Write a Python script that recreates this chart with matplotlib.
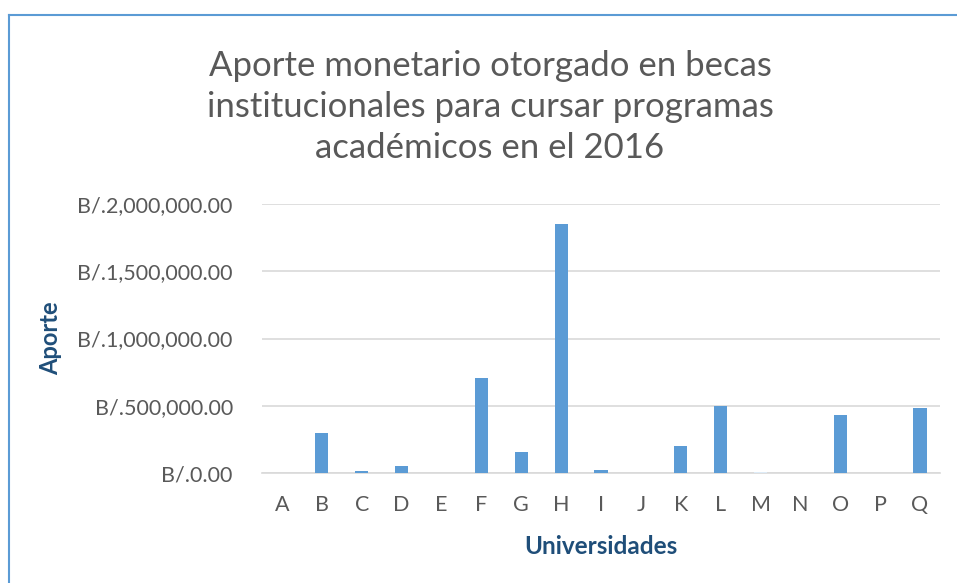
import matplotlib.pyplot as plt
from matplotlib.lines import Line2D
from matplotlib.ticker import FuncFormatter

universidades = ['A', 'B', 'C', 'D', 'E', 'F', 'G', 'H', 'I', 'J', 'K', 'L', 'M', 'N', 'O', 'P', 'Q']
aporte = [0, 300000, 12000, 50000, 0, 705000, 155000, 1850000, 20000, 0,
          200000, 498000, 5000, 0, 430000, 0, 483000]

plt.rcParams['font.family'] = ['Lato', 'DejaVu Sans']

fig = plt.figure(figsize=(9.57, 5.83), dpi=100)
W, H = 957, 583
ax = fig.add_axes([262 / W, 1 - 473 / H, (940 - 262) / W, (473 - 204) / H])

colors = ['#5B9BD5'] * len(aporte)
colors[12] = '#DDEBF7'  # M barely visible
ax.bar(range(len(universidades)), aporte, width=0.33, color=colors, zorder=3)

ax.set_xlim(-0.5, len(universidades) - 0.5)
ax.set_ylim(0, 2000000)
ax.set_yticks([0, 500000, 1000000, 1500000, 2000000])
ax.yaxis.set_major_formatter(FuncFormatter(lambda v, p: 'B/.{:,.2f}'.format(v)))
ax.set_xticks(range(len(universidades)))
ax.set_xticklabels(universidades)
ax.grid(axis='y', color='#D9D9D9', linewidth=1.2, zorder=0)
for s in ['top', 'right', 'left']:
    ax.spines[s].set_visible(False)
ax.spines['bottom'].set_color('#D9D9D9')
ax.spines['bottom'].set_linewidth(1.2)
ax.tick_params(length=0, labelsize=15.5, labelcolor='#595959')
ax.tick_params(axis='x', pad=16)
ax.tick_params(axis='y', pad=21)

ax.set_ylabel('Aporte', fontsize=17, fontweight='bold', color='#1F4E79')
ax.set_xlabel('Universidades', fontsize=17.5, fontweight='bold', color='#1F4E79')
ax.yaxis.set_label_coords(-200 / (940 - 262), 0.5)
ax.xaxis.set_label_coords(0.5, -62 / (473 - 204))

fig.text(490 / W, 1 - 107 / H,
         'Aporte monetario otorgado en becas\ninstitucionales para cursar programas\nacadémicos en el 2016',
         ha='center', va='center', fontsize=25, color='#595959', linespacing=1.35)

# chart frame
fig.add_artist(Line2D([9 / W, 9 / W], [0, 1 - 15 / H], color='#5B9BD5', lw=1.5, transform=fig.transFigure))
fig.add_artist(Line2D([9 / W, 1], [1 - 15 / H, 1 - 15 / H], color='#5B9BD5', lw=1.5, transform=fig.transFigure))

fig.savefig('out.png', dpi=100)
